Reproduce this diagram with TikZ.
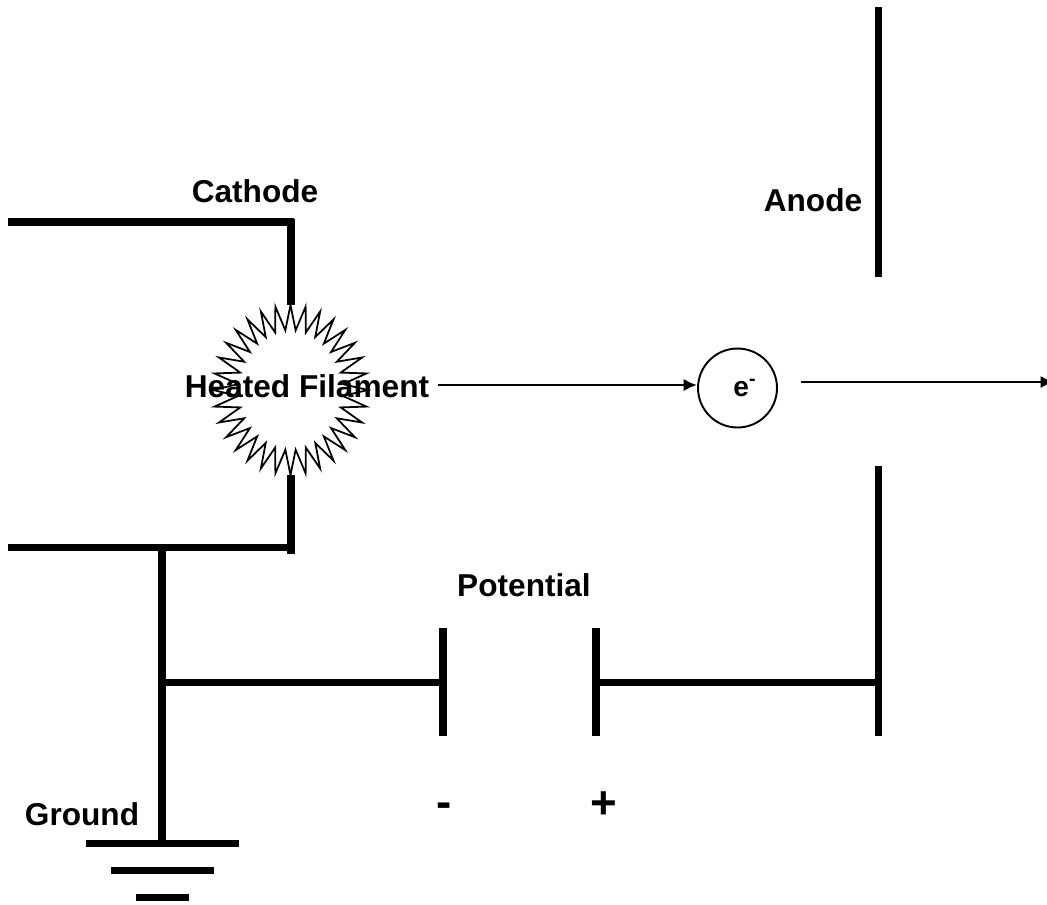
\documentclass[tikz,border=0pt]{standalone}
\usepackage{fontspec}
\setmainfont{Liberation Sans}
\usetikzlibrary{arrows.meta,shapes.symbols}

\begin{document}
\begin{tikzpicture}[
    x=0.02cm,y=-0.02cm,
    font=\fontsize{18}{20}\selectfont\bfseries,
    wire/.style={line width=4pt},
    arrow/.style={-{Latex[length=2.7mm,width=2.5mm]},line width=1.5pt},
    label/.style={inner sep=0pt},
    sign/.style={inner sep=0pt,font=\fontsize{26}{28}\selectfont\bfseries}
  ]
    \useasboundingbox (0,0) rectangle (1047,904);
    % cathode and filament
    \node[draw,line width=1pt,shape=starburst,starburst points=32,starburst point height=0.5cm,
      random starburst=0,minimum width=3.1cm,minimum height=3.4cm,inner sep=0pt] (filament) at (290.5,390) {};
    \coordinate (cathodeleft) at (8,222);
    \coordinate (cathodecorner) at (294,222);
    \coordinate (filamenttop) at (291,305);
    \coordinate (filamentbottom) at (291,475);
    \coordinate (groundcorner) at (291,554);
    \coordinate (groundleft) at (8,547);
    \coordinate (groundright) at (294,547);
    \coordinate (groundjoin) at (162,547);
    \coordinate (branch) at (162,682);
    \coordinate (groundtop) at (162,843);
    \coordinate (cathodedrop) at (291,219);
    \draw[wire] (cathodeleft) -- (cathodecorner);
    \draw[wire] (cathodedrop) -- (filamenttop);
    \draw[wire] (filamentbottom) -- (groundcorner);
    \draw[wire] (groundleft) -- (groundright);
    \draw[wire] (groundjoin) -- (groundtop);
    % ground bars
    \coordinate (bara1) at (86,843);
    \coordinate (bara2) at (239,843);
    \coordinate (barb1) at (111,870);
    \coordinate (barb2) at (214,870);
    \coordinate (barc1) at (136,897);
    \coordinate (barc2) at (189,897);
    \draw[wire] (bara1) -- (bara2);
    \draw[wire] (barb1) -- (barb2);
    \draw[wire] (barc1) -- (barc2);
    % potential plates and anode
    \coordinate (minustop) at (443,628);
    \coordinate (minusbottom) at (443,736);
    \coordinate (minusmid) at (443,682);
    \coordinate (plustop) at (596,628);
    \coordinate (plusbottom) at (596,736);
    \coordinate (plusmid) at (596,682);
    \coordinate (anodeupper) at (878,7);
    \coordinate (anodeuppermid) at (878,277);
    \coordinate (anodelower) at (878,466);
    \coordinate (anodemid) at (878,682);
    \coordinate (anodebottom) at (878,736);
    \draw[wire] (branch) -- (minusmid);
    \draw[wire] (minustop) -- (minusbottom);
    \draw[wire] (plustop) -- (plusbottom);
    \draw[wire] (plusmid) -- (anodemid);
    \draw[wire] (anodeupper) -- (anodeuppermid);
    \draw[wire] (anodelower) -- (anodebottom);
    % labels
    \node[label] (cathode) at (255,191) {Cathode};
    \node[label] (anode) at (813,200) {Anode};
    \node[label] (heated) at (307,386) {Heated Filament};
    \node[label] (potential) at (524,585) {Potential};
    \node[label] (ground) at (82,814) {Ground};
    \node[sign] (minus) at (444,810) {-};
    \node[sign] (plus) at (604,805) {+};
    % electron
    \node[draw,circle,line width=1.1pt,minimum size=1.58cm,inner sep=0pt] (electron) at (737.5,388) {};
    \node[label,font=\fontsize{16}{18}\selectfont\bfseries] (charge) at (745,388) {e\textsuperscript{-}};
    \coordinate (beamstart) at (801,382);
    \coordinate (beamend) at (1054,382);
    \coordinate (filamentout) at (438,385);
    \draw[arrow] (filamentout) -- (electron.west |- filamentout);
    \draw[arrow] (beamstart) -- (beamend);
  \end{tikzpicture}
\end{document}
